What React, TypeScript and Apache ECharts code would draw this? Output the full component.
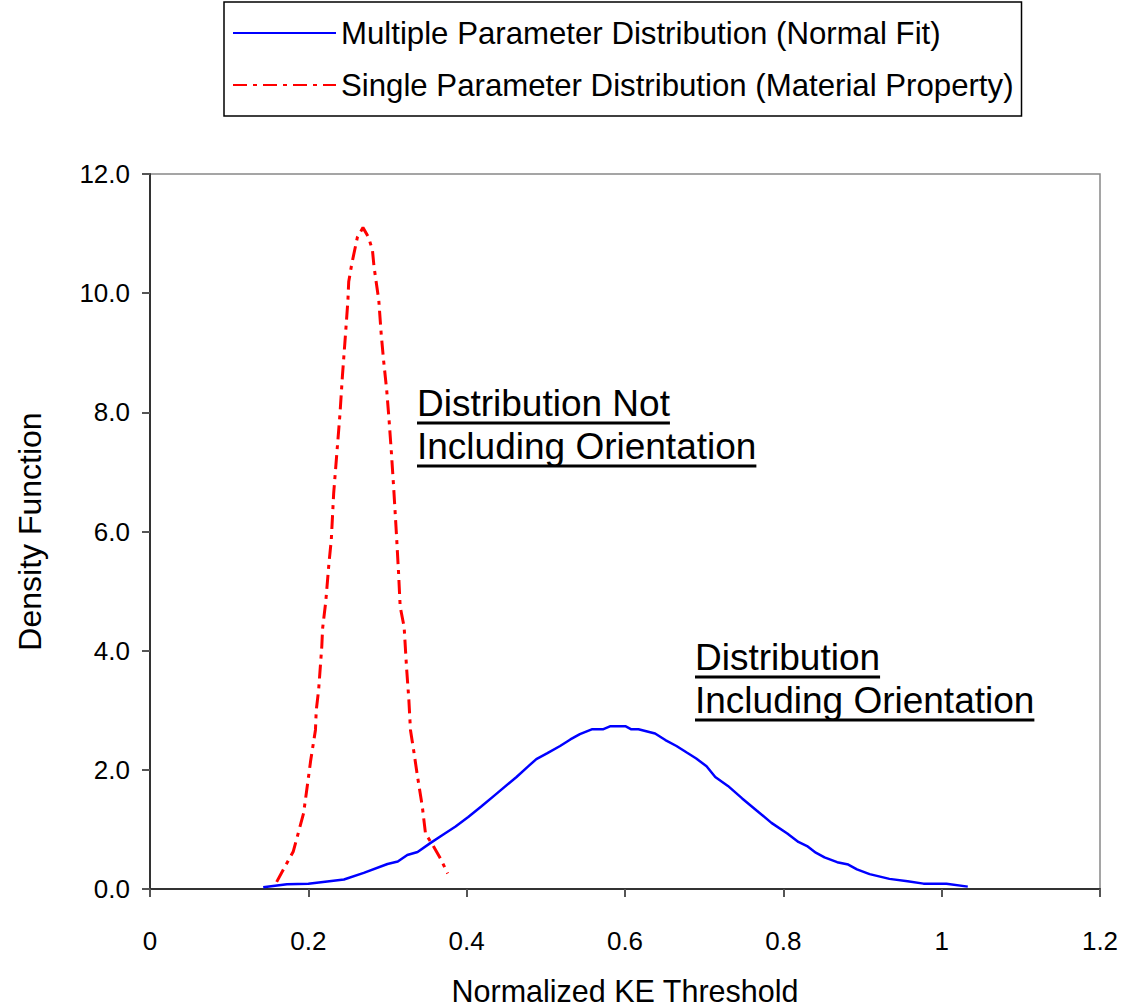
import React, { useEffect, useRef } from "react";
import * as echarts from "echarts";

const seriesNames = [
  "Multiple Parameter Distribution (Normal Fit)",
  "Single Parameter Distribution (Material Property)",
];

const multiX = [
  0.143, 0.173, 0.2, 0.245, 0.27, 0.3, 0.313, 0.325, 0.338, 0.354, 0.371, 0.386, 0.402, 0.418,
  0.436, 0.463, 0.477, 0.488, 0.502, 0.518, 0.531, 0.543, 0.558, 0.572, 0.581, 0.601, 0.608,
  0.617, 0.638, 0.651, 0.665, 0.678, 0.69, 0.703, 0.714, 0.73, 0.748, 0.767, 0.785, 0.805,
  0.819, 0.83, 0.841, 0.852, 0.868, 0.882, 0.893, 0.909, 0.934, 0.957, 0.977, 1.006, 1.033,
];
const multiY = [
  0.03, 0.08, 0.09, 0.16, 0.27, 0.42, 0.46, 0.57, 0.62, 0.77, 0.92, 1.05, 1.21, 1.38, 1.58,
  1.88, 2.05, 2.18, 2.28, 2.4, 2.51, 2.6, 2.68, 2.68, 2.73, 2.73, 2.68, 2.68, 2.61, 2.5, 2.4,
  2.29, 2.19, 2.06, 1.88, 1.73, 1.52, 1.31, 1.11, 0.93, 0.79, 0.72, 0.61, 0.53, 0.45, 0.41,
  0.33, 0.25, 0.17, 0.13, 0.09, 0.09, 0.04,
];

const singleX = [
  0.16, 0.181, 0.194, 0.2, 0.203, 0.209, 0.21, 0.213, 0.217, 0.218, 0.222, 0.226, 0.229, 0.232,
  0.236, 0.24, 0.243, 0.247, 0.25, 0.251, 0.255, 0.262, 0.269, 0.276, 0.281, 0.283, 0.289,
  0.292, 0.295, 0.299, 0.302, 0.305, 0.308, 0.311, 0.314, 0.316, 0.321, 0.324, 0.327, 0.329,
  0.333, 0.338, 0.344, 0.348, 0.357, 0.367, 0.376,
];
const singleY = [
  0.12, 0.63, 1.27, 1.86, 2.16, 2.67, 3.0, 3.34, 4.07, 4.37, 4.82, 5.46, 5.86, 6.64, 7.31, 7.98,
  8.6, 9.32, 9.88, 10.19, 10.5, 10.94, 11.1, 10.94, 10.72, 10.44, 9.88, 9.32, 8.88, 8.37, 7.87,
  7.31, 6.69, 6.02, 5.3, 4.74, 4.4, 3.73, 3.17, 2.67, 2.33, 1.88, 1.38, 0.93, 0.74, 0.51, 0.26,
];

const xAxisName = "Normalized KE Threshold";
const yAxisName = "Density Function";

const annotationTexts = [
  ["Distribution Not", "Including Orientation"],
  ["Distribution", "Including Orientation"],
];

export default function App() {
  const ref = useRef<HTMLDivElement>(null);

  useEffect(() => {
    document.body.style.margin = "0";
    const chart = echarts.init(ref.current!, null, { renderer: "svg" });
    const fontFamily = "'Liberation Sans', Arial, sans-serif";

    const ctx = document.createElement("canvas").getContext("2d")!;
    const annSize = 37;
    ctx.font = `${annSize}px ${fontFamily}`;

    const annPos = [
      { x: 417, y: 403 },
      { x: 695, y: 657 },
    ];
    const lineGap = 43;
    const graphics: any[] = [];
    annotationTexts.forEach((lines, k) => {
      lines.forEach((t, i) => {
        const yc = annPos[k].y + i * lineGap;
        graphics.push({
          type: "text",
          x: annPos[k].x,
          y: yc,
          style: {
            text: t,
            fontSize: annSize,
            fontFamily,
            fill: "#000",
            verticalAlign: "middle",
            align: "left",
          },
        });
        const w = ctx.measureText(t).width;
        graphics.push({
          type: "line",
          shape: { x1: annPos[k].x, y1: yc + 20, x2: annPos[k].x + w, y2: yc + 20 },
          style: { stroke: "#000", lineWidth: 3 },
        });
      });
    });

    const option: any = {
      animation: false,
      backgroundColor: "#fff",
      grid: {
        left: 150,
        right: 23,
        top: 174,
        bottom: 119,
        outerBoundsMode: "none",
        containLabel: false,
        show: true,
        borderColor: "#888",
        borderWidth: 1.5,
        backgroundColor: "transparent",
      },
      legend: {
        left: 224,
        top: 2,
        orient: "vertical",
        backgroundColor: "#fff",
        borderColor: "#000",
        borderWidth: 1.5,
        padding: [15, 8, 15, 8],
        itemGap: 20,
        itemWidth: 103,
        itemHeight: 14,
        itemStyle: { opacity: 0 },
        textStyle: { fontSize: 31.2, fontFamily, color: "#000", lineHeight: 32 },
        data: seriesNames,
      },
      xAxis: {
        type: "value",
        min: 0,
        max: 1.2,
        interval: 0.2,
        name: xAxisName,
        nameLocation: "middle",
        nameGap: 86,
        nameTextStyle: { fontSize: 30.5, color: "#000", fontFamily, lineHeight: 31 },
        axisLine: { onZero: false, lineStyle: { color: "#333", width: 2 } },
        axisTick: { show: true, length: 8, lineStyle: { color: "#555", width: 2 } },
        axisLabel: { fontSize: 26, color: "#000", margin: 39, fontFamily },
        splitLine: { show: false },
      },
      yAxis: {
        type: "value",
        min: 0,
        max: 12,
        interval: 2,
        name: yAxisName,
        nameLocation: "middle",
        nameGap: 104,
        nameRotate: 90,
        nameTextStyle: { fontSize: 32, color: "#000", fontFamily },
        axisLine: { show: true, lineStyle: { color: "#333", width: 2 } },
        axisTick: { show: true, length: 8, lineStyle: { color: "#555", width: 2 } },
        axisLabel: {
          fontSize: 26,
          color: "#000",
          margin: 20,
          fontFamily,
          formatter: (v: number) => v.toFixed(1),
        },
        splitLine: { show: false },
      },
      series: [
        {
          name: seriesNames[0],
          type: "line",
          symbol: "none",
          data: multiX.map((x, i) => [x, multiY[i]]),
          lineStyle: { color: "#0000ff", width: 2.5 },
          itemStyle: { color: "#0000ff" },
        },
        {
          name: seriesNames[1],
          type: "line",
          symbol: "none",
          data: singleX.map((x, i) => [x, singleY[i]]),
          lineStyle: { color: "#ff0000", width: 3, type: [14, 6, 4, 6] },
          itemStyle: { color: "#ff0000" },
        },
      ],
      graphic: graphics,
    };

    chart.setOption(option);
    return () => chart.dispose();
  }, []);

  return <div ref={ref} style={{ width: 1123, height: 1008 }} />;
}
